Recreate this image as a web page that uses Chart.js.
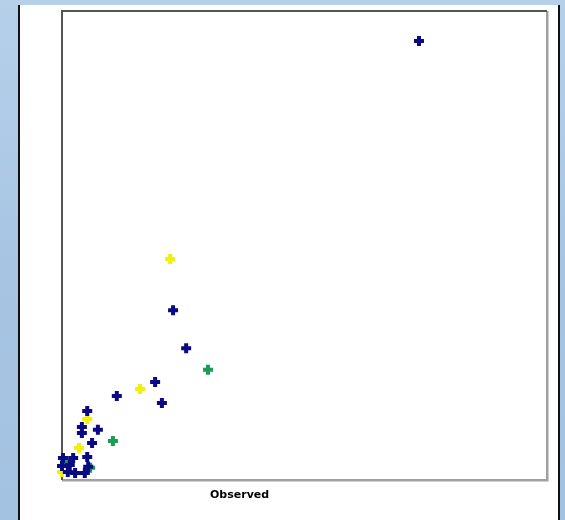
<!DOCTYPE html>
<html>
<head>
<meta charset="utf-8">
<script src="https://cdn.jsdelivr.net/npm/chart.js@4"></script>
<style>
  html, body { margin:0; padding:0; }
  body { width:565px; height:520px; position:relative; overflow:hidden;
    background: linear-gradient(180deg, #b6d0ea 0%, #a7c5e3 50%, #a3c1e0 100%); }
  #panel { position:absolute; left:18px; top:5px; width:538px; height:515px; background:#fff;
    border-left:2px solid #111; border-right:2px solid #111; }
  #wrap { position:absolute; left:0; top:0; width:565px; height:520px; }
  #xlabel { position:absolute; left:210px; top:488px; font-family:"DejaVu Sans", sans-serif;
    font-weight:bold; font-size:11px; color:#000; letter-spacing:0px; }
</style>
</head>
<body>
<div id="panel"></div>
<div id="wrap"><canvas id="c" width="565" height="520"></canvas></div>
<div id="xlabel">Observed</div>
<script>
const navyX = [73.6, 22.9, 25.6, 19.2, 20.6, 11.3, 5.2, 7.4, 4.1, 4.1, 6.2, 0.2, 2.3, 5.2, 1.6, 5.4, 1.2, 2.7, 4.7, 0.0];
const navyY = [93.6, 36.2, 28.1, 20.9, 16.4, 17.9, 14.7, 10.7, 11.3, 10.0, 7.9, 4.7, 4.7, 4.9, 3.2, 2.8, 1.7, 1.5, 1.5, 3.0];
const yellowX = [22.3, 16.1, 5.2, 3.5, 0.0];
const yellowY = [47.1, 19.4, 13.0, 6.8, 1.7];
const greenX = [30.1, 10.5, 0.6, 5.8];
const greenY = [23.5, 8.3, 3.8, 2.6];

const pts = (xs, ys) => xs.map((x, i) => ({x, y: ys[i]}));

const frame = {
  id: 'frame',
  beforeDatasetsDraw(chart) {
    const {ctx, chartArea: a} = chart;
    ctx.save();
    ctx.lineWidth = 2;
    ctx.strokeStyle = '#a0a0a0';
    ctx.beginPath();
    ctx.moveTo(a.right, a.top); ctx.lineTo(a.right, a.bottom); ctx.lineTo(a.left, a.bottom);
    ctx.stroke();
    ctx.strokeStyle = '#d0d0d0';
    ctx.lineWidth = 1;
    ctx.beginPath();
    ctx.moveTo(a.right + 1.5, a.top); ctx.lineTo(a.right + 1.5, a.bottom + 1.5); ctx.lineTo(a.left, a.bottom + 1.5);
    ctx.stroke();
    ctx.lineWidth = 2;
    ctx.strokeStyle = '#555';
    ctx.beginPath();
    ctx.moveTo(a.left, a.bottom); ctx.lineTo(a.left, a.top); ctx.lineTo(a.right, a.top);
    ctx.stroke();
    ctx.restore();
  }
};

const common = { pointStyle: 'cross', pointRadius: 5, pointBorderWidth: 4, showLine: false, clip: false };

new Chart(document.getElementById('c'), {
  type: 'scatter',
  data: {
    datasets: [
      { ...common, label: 'Navy', data: pts(navyX, navyY), borderColor: '#0a0a84', backgroundColor: '#0a0a84' },
      { ...common, label: 'Yellow', data: pts(yellowX, yellowY), borderColor: '#f5f000', backgroundColor: '#f5f000' },
      { ...common, label: 'Green', data: pts(greenX, greenY), borderColor: '#1a9e55', backgroundColor: '#1a9e55' }
    ]
  },
  options: {
    responsive: false,
    animation: false,
    layout: { padding: { left: 62, right: 18, top: 11, bottom: 40 } },
    plugins: { legend: { display: false }, tooltip: { enabled: false } },
    scales: {
      x: { display: false, min: 0, max: 100 },
      y: { display: false, min: 0, max: 100 }
    }
  },
  plugins: [frame]
});
</script>
</body>
</html>
